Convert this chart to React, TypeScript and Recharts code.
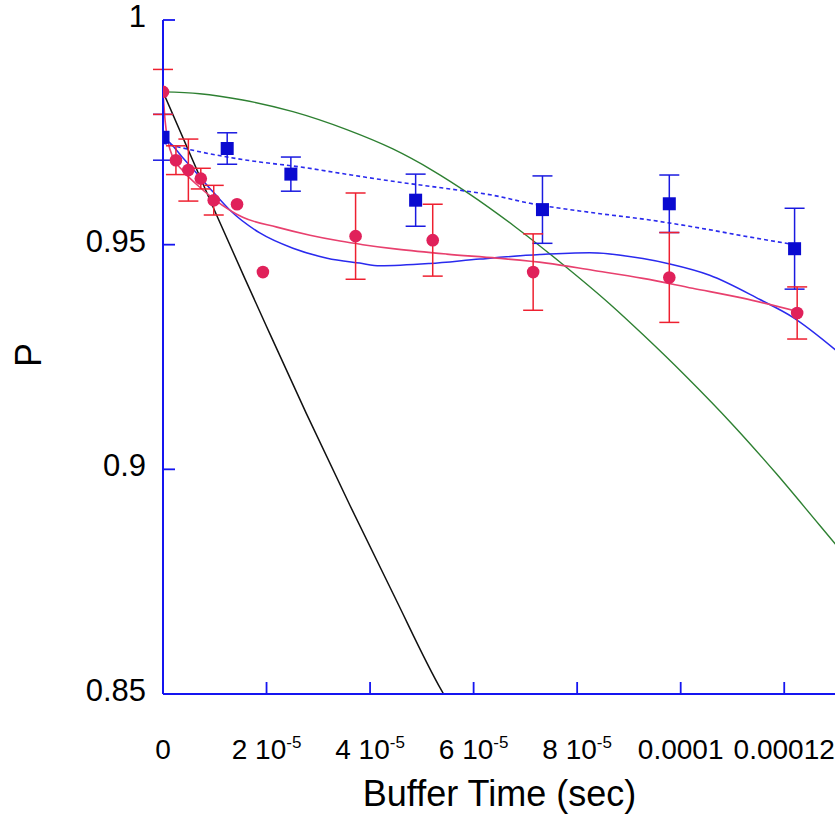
import React from 'react'
import { ComposedChart, Line, Scatter, ErrorBar, XAxis, YAxis, Label } from 'recharts'

// buffer time is kept in units of 1e-5 s, P is the plain value
const redX = [0, 0.25, 0.49, 0.73, 0.98, 1.43, 1.93, 3.72, 5.21, 7.15, 9.78, 12.25]
const redP = [0.984, 0.9688, 0.9666, 0.9647, 0.9599, 0.959, 0.9439, 0.9519, 0.951, 0.9439, 0.9427, 0.9348]
const redErr = [0.005, 0.0032, 0.0069, 0.0023, 0.0033, 0, 0, 0.0096, 0.008, 0.0085, 0.01, 0.0058]

const blueX = [0, 1.24, 2.47, 4.88, 7.33, 9.78, 12.2]
const blueP = [0.9739, 0.9714, 0.9657, 0.9599, 0.9578, 0.9591, 0.9491]
const blueErr = [0.0051, 0.0035, 0.0038, 0.0058, 0.0075, 0.0064, 0.009]

const greenX = [0, 0.71, 1.54, 2.51, 3.55, 4.44, 5.21, 5.93, 6.8, 7.66, 8.63, 9.27, 10.12, 11.0, 11.85, 12.68, 13.0]
const greenP = [0.984, 0.9836, 0.9822, 0.9796, 0.9756, 0.9713, 0.9665, 0.9612, 0.954, 0.9462, 0.9368, 0.93, 0.9205, 0.91, 0.899, 0.8876, 0.8832]

const blackX = [0, 1.0, 1.58, 2.0, 2.77, 3.61, 4.45, 5.38, 5.42]
const blackP = [0.984, 0.9575, 0.9425, 0.9318, 0.9124, 0.892, 0.8722, 0.8508, 0.85]

const blueFitX = [0, 0.14, 0.37, 0.68, 0.97, 1.29, 1.87, 2.51, 3.17, 3.8, 4.19, 5.15, 6.12, 7.28, 8.24, 9.27, 9.79, 10.56, 11.53, 12.16, 13.0]
const blueFitP = [0.9739, 0.9726, 0.9695, 0.9655, 0.9617, 0.9577, 0.9526, 0.9492, 0.947, 0.9459, 0.9453, 0.9458, 0.9468, 0.9478, 0.9482, 0.9469, 0.9457, 0.9432, 0.9378, 0.9339, 0.9265]

const redFitX = [0, 0.04, 0.1, 0.19, 0.37, 0.64, 0.99, 1.54, 2.2, 2.84, 3.42, 3.86, 4.52, 5.48, 6.45, 7.41, 8.3, 9.27, 10.23, 11.2, 12.24]
const redFitP = [0.984, 0.9777, 0.9728, 0.9695, 0.9666, 0.9635, 0.9601, 0.9561, 0.9539, 0.9521, 0.9508, 0.95, 0.949, 0.9479, 0.947, 0.9459, 0.9443, 0.9425, 0.9403, 0.9381, 0.9352]

const dottedX = [0, 0.58, 1.24, 1.87, 2.65, 3.42, 4.44, 5.41, 6.37, 7.09, 8.24, 9.4, 10.37, 11.33, 12.2]
const dottedP = [0.9726, 0.971, 0.9695, 0.9684, 0.9673, 0.9659, 0.9641, 0.9626, 0.961, 0.9592, 0.9572, 0.9555, 0.9537, 0.9517, 0.95]

const xTicks = [0, 2, 4, 6, 8, 10, 12]
const xTickBase = ['0', '2 10', '4 10', '6 10', '8 10', '0.0001', '0.00012']
const xTickExp = ['', '-5', '-5', '-5', '-5', '', '']
const yTicks = [0.85, 0.9, 0.95, 1]
const yTickLabels = ['0.85', '0.9', '0.95', '1']

const AXIS = '#1515f0'
const FONT = '"Liberation Sans", Arial, sans-serif'

const zip = (xs: number[], ys: number[], errs?: number[]) =>
  xs.map((x, i) => ({ x, y: ys[i], err: errs ? errs[i] : 0 }))

const redPts = zip(redX, redP, redErr)
const bluePts = zip(blueX, blueP, blueErr)

const LeftTick = (props: any) => {
  const { x, y, index } = props
  return (
    <g>
      <line x1={x} x2={x + 12} y1={y} y2={y} stroke={AXIS} strokeWidth={1.8} />
      <text x={x - 17} y={y + 7} textAnchor="end" fontSize={31} fontFamily={FONT} fill="#000">
        {yTickLabels[index]}
      </text>
    </g>
  )
}

const RightTick = (props: any) => {
  const { x, y } = props
  return <line x1={x - 12} x2={x} y1={y} y2={y} stroke={AXIS} strokeWidth={1.8} />
}

const BottomTick = (props: any) => {
  const { x, y, index } = props
  return (
    <g>
      <line x1={x} x2={x} y1={y} y2={y - 12} stroke={AXIS} strokeWidth={1.8} />
      <text x={x} y={y + 65} textAnchor="middle" fontSize={28} fontFamily={FONT} fill="#000">
        {xTickBase[index]}
        {xTickExp[index] ? <tspan fontSize={17} dy={-11}>{xTickExp[index]}</tspan> : null}
      </text>
    </g>
  )
}

const XTitle = (props: any) => {
  const { viewBox } = props
  return (
    <text x={viewBox.x + viewBox.width / 2} y={806} textAnchor="middle" fontSize={36} fontFamily={FONT} fill="#000">
      Buffer Time (sec)
    </text>
  )
}

const YTitle = () => (
  <text x={41} y={355} transform="rotate(-90, 41, 355)" textAnchor="middle" fontSize={36} fontFamily={FONT} fill="#000">
    P
  </text>
)

const Square = (props: any) => (
  <rect x={props.cx - 6.5} y={props.cy - 6.5} width={13} height={13} fill="#0a0ad0" />
)

const Dot = (props: any) => <circle cx={props.cx} cy={props.cy} r={6.3} fill="#e0215a" />

const axisLine = { stroke: AXIS, strokeWidth: 2 }

const App = () => {
  return (
    <div style={{ position: 'absolute', left: 0, top: 0, width: 835, height: 814, overflow: 'hidden', background: '#fff' }}>
      <ComposedChart width={850} height={814} margin={{ top: 20, right: 14, left: 0, bottom: 0 }}>
        <XAxis
          dataKey="x"
          type="number"
          domain={[0, 13]}
          ticks={xTicks}
          allowDataOverflow
          height={120}
          axisLine={axisLine}
          tickLine={false}
          tickSize={0}
          tickMargin={0}
          tick={<BottomTick />}
          interval={0}
        >
          <Label content={<XTitle />} />
        </XAxis>
        <XAxis xAxisId="top" orientation="top" type="number" domain={[0, 13]} height={0} tick={false} tickLine={false} axisLine={axisLine} />
        <YAxis
          dataKey="y"
          type="number"
          domain={[0.85, 1]}
          ticks={yTicks}
          allowDataOverflow
          width={163}
          axisLine={axisLine}
          tickLine={false}
          tickSize={0}
          tickMargin={0}
          tick={<LeftTick />}
          interval={0}
        >
          <Label content={<YTitle />} />
        </YAxis>
        <YAxis
          yAxisId="r"
          orientation="right"
          type="number"
          domain={[0.85, 1]}
          ticks={yTicks}
          width={0}
          axisLine={axisLine}
          tickLine={false}
          tickSize={0}
          tickMargin={0}
          tick={<RightTick />}
          interval={0}
        />
        <Line data={zip(greenX, greenP)} dataKey="y" type="monotone" stroke="#2e8032" strokeWidth={1.4} dot={false} isAnimationActive={false} />
        <Line data={zip(blackX, blackP)} dataKey="y" type="monotone" stroke="#111111" strokeWidth={1.5} dot={false} isAnimationActive={false} />
        <Line data={zip(blueFitX, blueFitP)} dataKey="y" type="monotone" stroke="#2a2aee" strokeWidth={1.5} dot={false} isAnimationActive={false} />
        <Line data={zip(redFitX, redFitP)} dataKey="y" type="monotone" stroke="#e8406e" strokeWidth={1.6} dot={false} isAnimationActive={false} />
        <Line data={zip(dottedX, dottedP)} dataKey="y" type="monotone" stroke="#2a2aee" strokeWidth={1.6} strokeDasharray="4 3" dot={false} isAnimationActive={false} />
        <Scatter data={bluePts} dataKey="y" shape={<Square />} isAnimationActive={false}>
          <ErrorBar dataKey="err" direction="y" width={10} stroke="#1a1ae0" strokeWidth={1.5} />
        </Scatter>
        <Scatter data={redPts} dataKey="y" shape={<Dot />} isAnimationActive={false}>
          <ErrorBar dataKey="err" direction="y" width={10} stroke="#ee2030" strokeWidth={1.5} />
        </Scatter>
      </ComposedChart>
    </div>
  )
}

export default App
